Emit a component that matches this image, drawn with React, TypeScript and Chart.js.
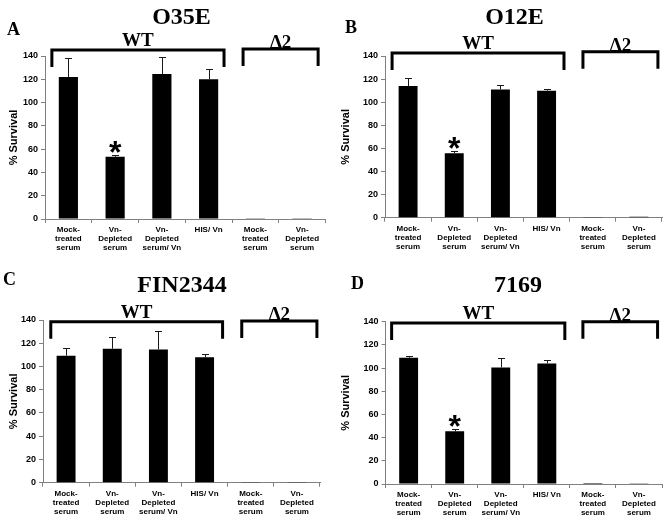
import React, { useEffect, useRef } from 'react';
import { Chart, registerables } from 'chart.js';

Chart.register(...registerables);

// ---------- data ----------
const categories: string[][] = [
  ['Mock-', 'treated', 'serum'],
  ['Vn-', 'Depleted', 'serum'],
  ['Vn-', 'Depleted', 'serum/ Vn'],
  ['HIS/ Vn'],
  ['Mock-', 'treated', 'serum'],
  ['Vn-', 'Depleted', 'serum'],
];
const yTicks = [0, 20, 40, 60, 80, 100, 120, 140];
const yAxisLabel = '% Survival';
const groupLabels = ['WT', 'Δ2'];

const o35eMeans = [122, 53.5, 124.5, 120, 0.2, 0.3];
const o35eErrors = [16, 1.5, 15, 8.6, 0, 0];
const o35eStars = [false, true, false, false, false, false];

const o12eMeans = [114, 55.7, 111, 110, 0.2, 0.8];
const o12eErrors = [6.6, 2, 3.8, 1.4, 0, 0];
const o12eStars = [false, true, false, false, false, false];

const fin2344Means = [109.3, 115.3, 114.7, 107.9, 0.2, 0.2];
const fin2344Errors = [6.3, 9.7, 15.8, 2.8, 0, 0];
const fin2344Stars = [false, false, false, false, false, false];

const s7169Means = [108.9, 45.4, 100.6, 104, 0.9, 0.3];
const s7169Errors = [1.7, 2, 7.8, 2.9, 0.2, 0];
const s7169Stars = [false, true, false, false, false, false];

// ---------- layout ----------
const panels = [
  {
    letter: 'A', title: 'O35E', means: o35eMeans, errors: o35eErrors, stars: o35eStars,
    left: 0, top: 0, width: 332, height: 260,
    area: { left: 45, right: 325.5, top: 56, bottom: 219 },
    titleX: 181.5, titleY: 24, letterX: 7, letterY: 35,
    wt: { from: -16.5, to: 15.4, dy: -6 }, d2: { from: -12.3, to: 16, dy: -7 },
  },
  {
    letter: 'B', title: 'O12E', means: o12eMeans, errors: o12eErrors, stars: o12eStars,
    left: 332, top: 0, width: 332, height: 260,
    area: { left: 53, right: 330, top: 56, bottom: 217.7 },
    titleX: 182.5, titleY: 23.5, letterX: 13, letterY: 33,
    wt: { from: -16, to: 17.4, dy: -3 }, d2: { from: -9.8, to: 19, dy: -4.3 },
  },
  {
    letter: 'C', title: 'FIN2344', means: fin2344Means, errors: fin2344Errors, stars: fin2344Stars,
    left: 0, top: 260, width: 332, height: 261,
    area: { left: 43, right: 320, top: 60, bottom: 222.7 },
    titleX: 182, titleY: 32, letterX: 3, letterY: 25,
    wt: { from: -15.3, to: 18, dy: 1.7 }, d2: { from: -9, to: 20, dy: 1 },
  },
  {
    letter: 'D', title: '7169', means: s7169Means, errors: s7169Errors, stars: s7169Stars,
    left: 332, top: 260, width: 332, height: 261,
    area: { left: 53.6, right: 330, top: 61.7, bottom: 224 },
    titleX: 186, titleY: 32, letterX: 19, letterY: 29,
    wt: { from: -17, to: 18, dy: 1.3 }, d2: { from: -10, to: 18.6, dy: 0 },
  },
];

const SANS = '"Liberation Sans", Arial, sans-serif';
const SERIF = '"Liberation Serif", "Times New Roman", serif';

function Panel({ p }: { p: any }) {
  const ref = useRef<HTMLCanvasElement>(null);
  useEffect(() => {
    const canvas = ref.current!;
    const deco = {
      id: 'deco',
      afterDatasetsDraw(chart: any) {
        const ctx = chart.ctx;
        const y = chart.scales.y;
        const meta = chart.getDatasetMeta(0);
        ctx.save();
        ctx.strokeStyle = '#1a1a1a';
        ctx.lineWidth = 1;
        p.means.forEach((m: number, i: number) => {
          const e = p.errors[i];
          const cx = Math.round(meta.data[i].x) + 0.5;
          const yTop = Math.round(y.getPixelForValue(m + e)) + 0.5;
          if (e > 0.5) {
            const yBar = y.getPixelForValue(m);
            ctx.beginPath();
            ctx.moveTo(cx, yBar);
            ctx.lineTo(cx, yTop);
            ctx.moveTo(cx - 3.5, yTop);
            ctx.lineTo(cx + 3.5, yTop);
            ctx.stroke();
          }
          if (p.stars[i]) {
            ctx.fillStyle = '#000';
            ctx.font = 'bold 32px ' + SANS;
            ctx.textAlign = 'center';
            ctx.textBaseline = 'alphabetic';
            const mt = ctx.measureText('*');
            const bottom = yTop - 3;
            ctx.fillText('*', meta.data[i].x, bottom - mt.actualBoundingBoxDescent);
          }
        });
        ctx.restore();
      },
      afterDraw(chart: any) {
        const ctx = chart.ctx;
        const x = chart.scales.x;
        const y = chart.scales.y;
        const topPix = y.getPixelForValue(140);
        ctx.save();
        ctx.fillStyle = '#000';
        ctx.strokeStyle = '#000';
        ctx.textBaseline = 'alphabetic';
        // title
        ctx.font = 'bold 24px ' + SERIF;
        ctx.textAlign = 'center';
        ctx.fillText(p.title, p.titleX, p.titleY);
        // panel letter
        ctx.font = 'bold 18px ' + SERIF;
        ctx.textAlign = 'left';
        ctx.fillText(p.letter, p.letterX, p.letterY);
        // brackets
        const groups = [
          { g: p.wt, a: 0, b: 3, label: groupLabels[0], lift: 4 },
          { g: p.d2, a: 4, b: 5, label: groupLabels[1], lift: 1 },
        ];
        ctx.lineWidth = 3;
        ctx.lineCap = 'butt';
        ctx.lineJoin = 'miter';
        groups.forEach(({ g, a, b, label, lift }) => {
          const x1 = x.getPixelForValue(a) + g.from;
          const x2 = x.getPixelForValue(b) + g.to;
          const by = topPix + g.dy;
          ctx.beginPath();
          ctx.moveTo(x1, by + 17);
          ctx.lineTo(x1, by);
          ctx.lineTo(x2, by);
          ctx.lineTo(x2, by + 17);
          ctx.stroke();
          ctx.font = 'bold 19px ' + SERIF;
          ctx.textAlign = 'center';
          ctx.fillText(label, (x1 + x2) / 2, by - lift);
        });
        ctx.restore();
      },
    };

    const chart = new Chart(canvas, {
      type: 'bar',
      data: {
        labels: categories,
        datasets: [
          {
            data: p.means,
            backgroundColor: '#000',
            borderWidth: 0,
            barPercentage: 0.41,
            categoryPercentage: 1,
          },
        ],
      },
      options: {
        animation: false,
        responsive: false,
        devicePixelRatio: 1,
        layout: {
          padding: { left: 0, top: p.area.top, right: p.width - p.area.right, bottom: 0 },
        },
        plugins: { legend: { display: false }, tooltip: { enabled: false }, title: { display: false } },
        scales: {
          x: {
            grid: { display: true, offset: true, drawOnChartArea: false, drawTicks: true, tickLength: 4, color: '#808080' },
            border: { display: true, color: '#808080', width: 1 },
            ticks: {
              color: '#000',
              font: { family: SANS, size: 8, weight: 'bold', lineHeight: 1.15 },
              padding: 2,
              maxRotation: 0,
              autoSkip: false,
            },
            afterFit: (s: any) => {
              s.height = p.height - p.area.bottom;
            },
          },
          y: {
            min: 0,
            max: 140,
            afterBuildTicks: (s: any) => {
              s.ticks = yTicks.map((v) => ({ value: v }));
            },
            grid: { drawOnChartArea: false, drawTicks: true, tickLength: 4, color: '#808080' },
            border: { display: true, color: '#808080', width: 1 },
            ticks: { color: '#000', font: { family: SANS, size: 9, weight: 'bold' }, padding: 3 },
            title: {
              display: true,
              text: yAxisLabel,
              color: '#000',
              font: { family: SANS, size: 11, weight: 'bold' },
              padding: { top: 7, bottom: 0 },
            },
            afterFit: (s: any) => {
              s.width = p.area.left;
            },
          },
        },
      },
      plugins: [deco],
    } as any);
    return () => chart.destroy();
  }, []);
  return (
    <canvas
      ref={ref}
      width={p.width}
      height={p.height}
      style={{ position: 'absolute', left: p.left, top: p.top, width: p.width, height: p.height }}
    />
  );
}

export default function App() {
  return (
    <div style={{ position: 'fixed', left: 0, top: 0, width: 664, height: 521, background: '#fff', overflow: 'hidden' }}>
      {panels.map((p) => (
        <Panel key={p.letter} p={p} />
      ))}
    </div>
  );
}
